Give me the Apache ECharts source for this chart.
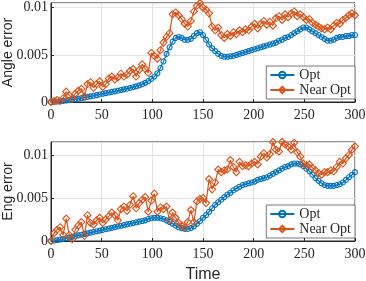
<!DOCTYPE html>
<html><head><meta charset="utf-8">
<script src="https://cdn.jsdelivr.net/npm/echarts@6/dist/echarts.min.js"></script>
<style>html,body{margin:0;padding:0;background:#fff}#c{width:366px;height:281px}</style>
</head><body><div id="c"></div>
<script>
const timeStep = 3;
const xTicks = [0, 50, 100, 150, 200, 250, 300];
const yTicks = [0, 0.005, 0.01];
const seriesNames = ['Opt', 'Near Opt'];

const angleOpt = [0,0.00002,0.00005,0.00008,0.00012,0.00016,0.0002,0.00025,0.0003,0.00036,
0.00042,0.00048,0.00054,0.0006,0.00066,0.00073,0.0008,0.00087,0.00094,0.001,
0.00107,0.00113,0.0012,0.00127,0.00134,0.00141,0.00149,0.00157,0.00166,0.00176,
0.00188,0.00203,0.00222,0.00245,0.0027,0.00305,0.0036,0.0043,0.0051,0.0058,
0.0064,0.0068,0.0069,0.0068,0.0066,0.0066,0.0067,0.007,0.0073,0.0074,
0.0071,0.0066,0.0061,0.0057,0.0054,0.0051,0.0049,0.0048,0.0048,0.00485,
0.0049,0.005,0.0051,0.0052,0.0053,0.0054,0.0055,0.0056,0.0057,0.0058,
0.0059,0.006,0.0061,0.0062,0.0063,0.0065,0.0066,0.0068,0.0069,0.0071,
0.0073,0.0075,0.0077,0.0079,0.0079,0.0077,0.0075,0.0073,0.0071,0.0069,
0.0067,0.0065,0.0065,0.0066,0.0068,0.0069,0.0069,0.007,0.007,0.0071,0.0071];

const angleNear = [0,0.0001,0.0002,0.0001,0.0004,0.0011,0.0007,0.0004,0.0009,0.0012,
0.0014,0.0006,0.0019,0.0021,0.0015,0.0019,0.0022,0.0016,0.0019,0.0025,
0.0027,0.0024,0.0026,0.003,0.0027,0.0029,0.0033,0.0035,0.0027,0.0034,
0.004,0.0035,0.0031,0.0052,0.0049,0.0046,0.0055,0.0063,0.0069,0.0073,
0.0093,0.0095,0.0092,0.0088,0.0083,0.008,0.0086,0.0096,0.0102,0.0105,
0.01,0.0098,0.0094,0.008,0.0076,0.0079,0.0071,0.0068,0.0072,0.007,
0.0074,0.0072,0.0076,0.0074,0.0077,0.0076,0.008,0.0083,0.0078,0.0083,
0.0086,0.0082,0.0085,0.0081,0.0089,0.0091,0.0087,0.0093,0.009,0.0094,
0.0096,0.0091,0.0093,0.009,0.0087,0.0088,0.0084,0.0082,0.008,0.0078,
0.0077,0.0079,0.0077,0.0081,0.0084,0.0083,0.0087,0.0089,0.0092,0.0094,0.0092];

const engOpt = [0,0.00005,0.0001,0.00017,0.00025,0.00033,0.00041,0.00049,0.00057,0.00065,
0.00073,0.00081,0.00089,0.00097,0.00105,0.00113,0.00121,0.00129,0.00137,0.00145,
0.00153,0.00161,0.00169,0.00177,0.00185,0.00193,0.00201,0.00209,0.00217,0.00225,
0.00232,0.0024,0.00255,0.00265,0.0027,0.0027,0.00265,0.00255,0.0024,0.0022,
0.002,0.0018,0.0016,0.0015,0.0014,0.0014,0.0015,0.0017,0.002,0.0023,
0.0027,0.003,0.0034,0.0038,0.0042,0.0045,0.0048,0.0051,0.0054,0.0056,
0.0059,0.0061,0.0063,0.0065,0.0066,0.0067,0.0068,0.0069,0.0071,0.0072,
0.0073,0.0074,0.0076,0.0078,0.008,0.0082,0.0084,0.0086,0.0087,0.0089,
0.009,0.009,0.0089,0.0087,0.0084,0.0081,0.0077,0.0073,0.007,0.0067,
0.0065,0.0064,0.0064,0.0064,0.0065,0.0066,0.0068,0.0071,0.0074,0.0077,0.008];

const engNear = [0,0.0009,0.0013,0.0016,0.0007,0.0026,0.0007,0.0002,0.0013,0.0018,
0.0022,0.0006,0.003,0.0021,0.0019,0.0024,0.0027,0.0021,0.0025,0.0029,
0.0033,0.003,0.0024,0.0037,0.004,0.0035,0.0042,0.0052,0.0038,0.0044,
0.0048,0.0051,0.0034,0.0047,0.0055,0.0034,0.0039,0.0037,0.004,0.0024,
0.0033,0.0027,0.0021,0.0018,0.0016,0.0022,0.0036,0.0022,0.0046,0.0049,
0.005,0.0044,0.0072,0.006,0.0068,0.0083,0.008,0.0082,0.0083,0.0094,
0.0086,0.008,0.0092,0.0087,0.0088,0.0087,0.009,0.0092,0.0089,0.0098,
0.0102,0.0097,0.0101,0.0115,0.0106,0.0104,0.0115,0.0112,0.011,0.0106,
0.0114,0.0103,0.0098,0.009,0.0088,0.0089,0.0085,0.0082,0.0079,0.0077,
0.008,0.008,0.0082,0.0081,0.0086,0.0092,0.009,0.0096,0.01,0.0106,0.011];

const time = angleOpt.map((_, i) => i * timeStep);
const pairs = arr => arr.map((v, i) => [time[i], v]);

const BLUE = '#0072BD', ORANGE = '#D95319', AX = '#262626';
const serif = 'Liberation Serif';

function xAx(gi, withName) {
  return {
    gridIndex: gi, type: 'value', min: 0, max: 300, interval: 50,
    axisLine: {show: true, lineStyle: {color: AX, width: 1}},
    axisTick: {show: true, inside: true, length: 3, lineStyle: {color: AX}},
    axisLabel: {color: AX, fontFamily: serif, fontSize: 14, margin: 6},
    splitLine: {show: true, lineStyle: {color: '#e3e3e3', width: 1}},
    name: withName ? 'Time' : '', nameLocation: 'middle', nameGap: 26, nameMoveOverlap: false,
    nameTextStyle: {color: AX, fontFamily: 'Liberation Sans', fontSize: 16}
  };
}
function yAx(gi, name, max) {
  return {
    gridIndex: gi, type: 'value', min: 0, max: max, interval: 0.005,
    axisLine: {show: true, lineStyle: {color: AX, width: 1}},
    axisTick: {show: true, inside: true, length: 3, lineStyle: {color: AX}},
    axisLabel: {color: AX, fontFamily: serif, fontSize: 14, margin: 3, showMaxLabel: false,
      formatter: v => (yTicks.indexOf(v) >= 0 ? String(v) : '')},
    splitLine: {show: true, lineStyle: {color: '#e3e3e3', width: 1}},
    name: name, nameLocation: 'middle', nameGap: 36, nameRotate: 90, nameMoveOverlap: false,
    nameTextStyle: {color: AX, fontFamily: 'Liberation Sans', fontSize: 14}
  };
}
function ser(name, gi, arr, color, symbol, size) {
  return {
    name: name, type: 'line', xAxisIndex: gi, yAxisIndex: gi, data: pairs(arr),
    symbol: symbol, symbolSize: size, showSymbol: true, animation: false,
    lineStyle: {color: color, width: 1.2},
    itemStyle: {color: 'rgba(255,255,255,0)', borderColor: color, borderWidth: 1.1}
  };
}
function leg(top) {
  return {
    data: seriesNames, right: 11, top: top, orient: 'vertical',
    backgroundColor: '#fff', borderColor: '#555', borderWidth: 0.8,
    padding: [2, 4, 2, 3], itemGap: 1, itemWidth: 24, itemHeight: 8,
    textStyle: {color: AX, fontFamily: serif, fontSize: 14, lineHeight: 14}
  };
}
function grd(top) {
  return {left: 51, right: 11, top: top, height: 99, show: true, borderColor: AX, borderWidth: 1,
    backgroundColor: '#fff', containLabel: false, outerBoundsMode: 'none'};
}

const chart = echarts.init(document.getElementById('c'), null, {renderer: 'canvas'});
chart.setOption({
  animation: false,
  grid: [grd(3), grd(142)],
  xAxis: [xAx(0, false), xAx(1, true)],
  yAxis: [yAx(0, 'Angle error', 0.0105), yAx(1, 'Eng error', 0.0115)],
  legend: [leg(66), leg(205)],
  series: [
    ser(seriesNames[0], 0, angleOpt, BLUE, 'circle', 5),
    ser(seriesNames[1], 0, angleNear, ORANGE, 'diamond', 7),
    ser(seriesNames[0], 1, engOpt, BLUE, 'circle', 5),
    ser(seriesNames[1], 1, engNear, ORANGE, 'diamond', 7)
  ]
});
</script></body></html>
